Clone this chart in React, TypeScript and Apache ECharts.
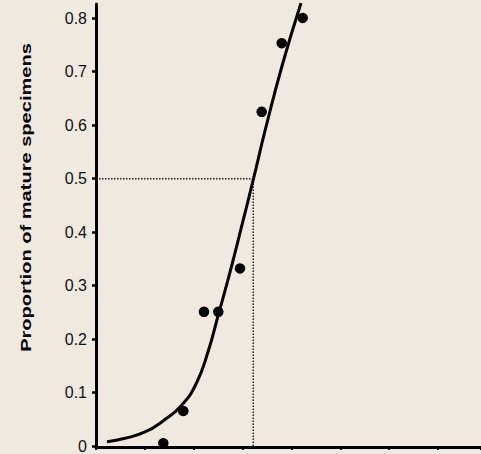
import React, { useEffect, useRef } from "react";
import * as echarts from "echarts";

// Fitted curve: [x, proportion]
const curvePoints: [number, number][] = [
  [0.225, 0.0099],
  [0.594, 0.0162],
  [1.003, 0.028],
  [1.371, 0.0485],
  [1.74, 0.0765],
  [2.047, 0.1175],
  [2.292, 0.1772],
  [2.497, 0.2443],
  [2.743, 0.3263],
  [2.988, 0.414],
  [3.219, 0.4985],
  [3.459, 0.5893],
  [3.807, 0.7105],
  [4.196, 0.828],
];

// Observed proportions: [x, proportion]
const observed: [number, number][] = [
  [1.377, 0.007],
  [1.787, 0.067],
  [2.21, 0.252],
  [2.503, 0.252],
  [2.947, 0.333],
  [3.391, 0.625],
  [3.801, 0.753],
  [4.23, 0.8],
];

// 50% maturity guide
const l50X = 3.219;
const l50Y = 0.5;
const guide: [number, number][] = [
  [0, l50Y],
  [l50X, l50Y],
  [l50X, 0],
];

const yTickLabels = ["0", "0.1", "0.2", "0.3", "0.4", "0.5", "0.6", "0.7", "0.8"];
const yAxisTitle = "Proportion of mature specimens";

export default function App() {
  const ref = useRef<HTMLDivElement>(null);
  useEffect(() => {
    document.body.style.margin = "0";
    document.body.style.background = "#efe9e0";
    if (!ref.current) return;
    const chart = echarts.init(ref.current, undefined, { renderer: "svg" });
    const font = "Liberation Sans, Arial, Helvetica, sans-serif";
    chart.setOption({
      animation: false,
      backgroundColor: "#efe9e0",
      grid: [
        { left: 96, right: 0, top: 4, bottom: 7 },
        { left: 96, right: 0, top: 18, bottom: 7 },
      ],
      xAxis: [
        {
          type: "value",
          gridIndex: 0,
          min: 0,
          max: 7.88,
          interval: 1,
          axisLine: { show: true, lineStyle: { color: "#000", width: 3 } },
          axisTick: { show: true, length: 3, lineStyle: { color: "#000", width: 2 } },
          axisLabel: { show: false },
          splitLine: { show: false },
        },
        {
          type: "value",
          gridIndex: 1,
          min: 0,
          max: 7.88,
          show: false,
        },
      ],
      yAxis: [
        {
          type: "value",
          gridIndex: 0,
          min: 0,
          max: 0.8261,
          axisLine: { show: true, lineStyle: { color: "#000", width: 3 } },
          axisTick: { show: false },
          axisLabel: { show: false },
          splitLine: { show: false },
        },
        {
          type: "value",
          gridIndex: 1,
          min: 0,
          max: 0.8,
          interval: 0.1,
          axisLine: { show: false },
          axisTick: { show: true, length: 4, lineStyle: { color: "#000", width: 2.5 } },
          axisLabel: {
            show: true,
            margin: 9,
            color: "#111",
            fontSize: 16,
            fontFamily: font,
            formatter: (v: number) => yTickLabels[Math.round(v * 10)] ?? "",
          },
          splitLine: { show: false },
        },
      ],
      graphic: [
        {
          type: "text",
          x: 25.5,
          y: 197.5,
          rotation: Math.PI / 2,
          scaleX: 1.338,
          style: {
            text: yAxisTitle,
            font: `bold 15px ${font}`,
            fill: "#000",
            textAlign: "center",
            textVerticalAlign: "middle",
            align: "center",
            verticalAlign: "middle",
          },
        },
      ],
      series: [
        {
          type: "line",
          xAxisIndex: 0,
          yAxisIndex: 0,
          data: guide,
          symbol: "none",
          lineStyle: { color: "#222", width: 1.5, type: [1.5, 1.5] },
          z: 1,
        },
        {
          type: "line",
          xAxisIndex: 0,
          yAxisIndex: 0,
          data: curvePoints,
          smooth: 0.5,
          symbol: "none",
          clip: true,
          lineStyle: { color: "#000", width: 3 },
          z: 2,
        },
        {
          type: "scatter",
          xAxisIndex: 0,
          yAxisIndex: 0,
          data: observed,
          symbol: "circle",
          symbolSize: 10.5,
          itemStyle: { color: "#000", opacity: 1 },
          z: 3,
        },
      ],
    });
    return () => chart.dispose();
  }, []);
  return <div ref={ref} style={{ width: 481, height: 454 }} />;
}
